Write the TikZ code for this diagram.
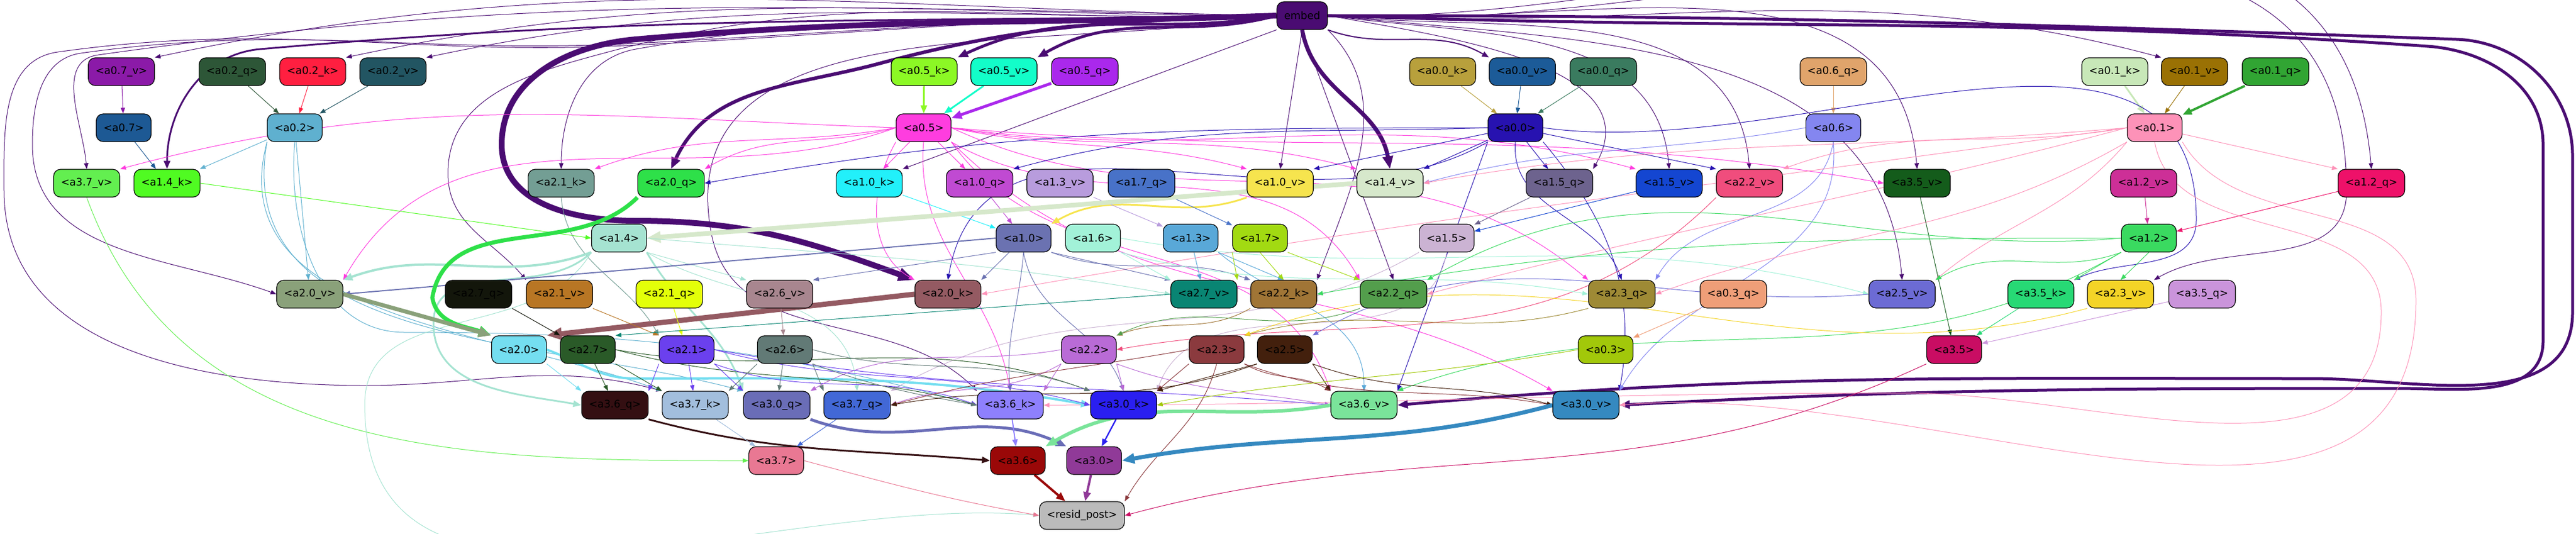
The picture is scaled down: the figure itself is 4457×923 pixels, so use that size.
\documentclass[tikz,border=0pt]{standalone}
\usepackage{fontspec}
\setmainfont{DejaVu Sans}
\usetikzlibrary{arrows.meta}
\pgfdeclarelayer{bg}
\pgfsetlayers{bg,main}
\definecolor{cembed}{HTML}{4A0C72}
\definecolor{ca07v}{HTML}{8B1AA8}
\definecolor{ca02q}{HTML}{2D5637}
\definecolor{ca02k}{HTML}{FF1F40}
\definecolor{ca02v}{HTML}{225562}
\definecolor{ca05k}{HTML}{8CF825}
\definecolor{ca05v}{HTML}{13FDC9}
\definecolor{ca05q}{HTML}{AA28EC}
\definecolor{ca00k}{HTML}{B8A03C}
\definecolor{ca00v}{HTML}{1C5B98}
\definecolor{ca00q}{HTML}{3A7B5F}
\definecolor{ca06q}{HTML}{E0A46B}
\definecolor{ca01k}{HTML}{C8E8B8}
\definecolor{ca01v}{HTML}{9A7104}
\definecolor{ca01q}{HTML}{31A533}
\definecolor{ca07}{HTML}{1D5994}
\definecolor{ca02}{HTML}{5FB0CF}
\definecolor{ca05}{HTML}{FE3DDF}
\definecolor{ca00}{HTML}{2712B0}
\definecolor{ca06}{HTML}{8486F0}
\definecolor{ca01}{HTML}{FD92B8}
\definecolor{ca37v}{HTML}{63EF50}
\definecolor{ca14k}{HTML}{50FB22}
\definecolor{ca21k}{HTML}{739E94}
\definecolor{ca20q}{HTML}{2EE049}
\definecolor{ca10k}{HTML}{22F0FA}
\definecolor{ca10q}{HTML}{C04AD2}
\definecolor{ca13v}{HTML}{B89CDD}
\definecolor{ca17q}{HTML}{4872C8}
\definecolor{ca10v}{HTML}{F6E44E}
\definecolor{ca14v}{HTML}{D6E8CB}
\definecolor{ca15q}{HTML}{6D638E}
\definecolor{ca15v}{HTML}{1446D1}
\definecolor{ca22v}{HTML}{F04D7D}
\definecolor{ca35v}{HTML}{145C1B}
\definecolor{ca12v}{HTML}{CD2F97}
\definecolor{ca12q}{HTML}{EE1169}
\definecolor{ca14}{HTML}{A5E3D1}
\definecolor{ca10}{HTML}{6B72B1}
\definecolor{ca16}{HTML}{A2F2D8}
\definecolor{ca13}{HTML}{59A8D8}
\definecolor{ca17}{HTML}{A2DA12}
\definecolor{ca15}{HTML}{CBB3D3}
\definecolor{ca12}{HTML}{3ADA60}
\definecolor{ca20v}{HTML}{8AA17A}
\definecolor{ca27q}{HTML}{13160B}
\definecolor{ca21v}{HTML}{B87624}
\definecolor{ca21q}{HTML}{E3FF09}
\definecolor{ca26v}{HTML}{A8868F}
\definecolor{ca20k}{HTML}{945A62}
\definecolor{ca27v}{HTML}{098573}
\definecolor{ca22k}{HTML}{A07536}
\definecolor{ca22q}{HTML}{539E4C}
\definecolor{ca23q}{HTML}{9E8A35}
\definecolor{ca03q}{HTML}{EF9E78}
\definecolor{ca25v}{HTML}{6C6BD4}
\definecolor{ca35k}{HTML}{27D975}
\definecolor{ca23v}{HTML}{F4D427}
\definecolor{ca35q}{HTML}{CA94DB}
\definecolor{ca20}{HTML}{74DEF0}
\definecolor{ca27}{HTML}{2A5A28}
\definecolor{ca21}{HTML}{6B40EE}
\definecolor{ca26}{HTML}{627A76}
\definecolor{ca22}{HTML}{B96BD6}
\definecolor{ca23}{HTML}{8B3A3E}
\definecolor{ca25}{HTML}{43200D}
\definecolor{ca03}{HTML}{A2C80A}
\definecolor{ca35}{HTML}{C90D63}
\definecolor{ca36q}{HTML}{340F12}
\definecolor{ca37k}{HTML}{A2BEDD}
\definecolor{ca30q}{HTML}{6A6DB7}
\definecolor{ca37q}{HTML}{4268D6}
\definecolor{ca36k}{HTML}{8E80FD}
\definecolor{ca30k}{HTML}{2A1FF0}
\definecolor{ca36v}{HTML}{7AE49A}
\definecolor{ca30v}{HTML}{3589C0}
\definecolor{ca37}{HTML}{E97893}
\definecolor{ca36}{HTML}{9A0808}
\definecolor{ca30}{HTML}{903A98}
\definecolor{cresid}{HTML}{BBBBBB}

\begin{document}
\begin{tikzpicture}[x=0.5pt, y=0.5pt,
    box/.style={draw=black, line width=0.6pt, rounded corners=6pt, minimum height=24pt,
      inner xsep=6.25pt, inner ysep=0pt, font=\fontsize{9}{11}\selectfont},
    lk/.style={draw=#1, line width=0.5pt, -{Triangle[length=4pt 2, width=3pt 1.6]}}]
    \useasboundingbox (0,0) rectangle (4457,-923);
    % row 0
    \node[box, fill=cembed] (embed) at (2253,-27) {embed};
    % row 1
    \node[box, fill=ca07v] (a07v) at (210,-124) {<a0.7\_v>};
    \node[box, fill=ca02q] (a02q) at (402,-124) {<a0.2\_q>};
    \node[box, fill=ca02k] (a02k) at (541,-124) {<a0.2\_k>};
    \node[box, fill=ca02v] (a02v) at (680,-124) {<a0.2\_v>};
    \node[box, fill=ca05k] (a05k) at (1599,-124) {<a0.5\_k>};
    \node[box, fill=ca05v] (a05v) at (1737,-124) {<a0.5\_v>};
    \node[box, fill=ca05q] (a05q) at (1877,-124) {<a0.5\_q>};
    \node[box, fill=ca00k] (a00k) at (2496,-124) {<a0.0\_k>};
    \node[box, fill=ca00v] (a00v) at (2634,-124) {<a0.0\_v>};
    \node[box, fill=ca00q] (a00q) at (2774,-124) {<a0.0\_q>};
    \node[box, fill=ca06q] (a06q) at (3172,-124) {<a0.6\_q>};
    \node[box, fill=ca01k] (a01k) at (3659,-124) {<a0.1\_k>};
    \node[box, fill=ca01v] (a01v) at (3797,-124) {<a0.1\_v>};
    \node[box, fill=ca01q] (a01q) at (3937,-124) {<a0.1\_q>};
    % row 2
    \node[box, fill=ca07] (a07) at (214,-221) {<a0.7>};
    \node[box, fill=ca02] (a02) at (510,-221) {<a0.2>};
    \node[box, fill=ca05] (a05) at (1598,-221) {<a0.5>};
    \node[box, fill=ca00] (a00) at (2622,-221) {<a0.0>};
    \node[box, fill=ca06] (a06) at (3172,-221) {<a0.6>};
    \node[box, fill=ca01] (a01) at (3728,-221) {<a0.1>};
    % row 3
    \node[box, fill=ca37v] (a37v) at (150,-317) {<a3.7\_v>};
    \node[box, fill=ca14k] (a14k) at (289,-317) {<a1.4\_k>};
    \node[box, fill=ca21k] (a21k) at (971,-317) {<a2.1\_k>};
    \node[box, fill=ca20q] (a20q) at (1161,-317) {<a2.0\_q>};
    \node[box, fill=ca10k] (a10k) at (1504,-317) {<a1.0\_k>};
    \node[box, fill=ca10q] (a10q) at (1695,-317) {<a1.0\_q>};
    \node[box, fill=ca13v] (a13v) at (1834,-317) {<a1.3\_v>};
    \node[box, fill=ca17q] (a17q) at (1975,-317) {<a1.7\_q>};
    \node[box, fill=ca10v] (a10v) at (2215,-317) {<a1.0\_v>};
    \node[box, fill=ca14v] (a14v) at (2405,-317) {<a1.4\_v>};
    \node[box, fill=ca15q] (a15q) at (2698,-317) {<a1.5\_q>};
    \node[box, fill=ca15v] (a15v) at (2888,-317) {<a1.5\_v>};
    \node[box, fill=ca22v] (a22v) at (3027,-317) {<a2.2\_v>};
    \node[box, fill=ca35v] (a35v) at (3317,-317) {<a3.5\_v>};
    \node[box, fill=ca12v] (a12v) at (3709,-317) {<a1.2\_v>};
    \node[box, fill=ca12q] (a12q) at (4103,-317) {<a1.2\_q>};
    % row 4
    \node[box, fill=ca14] (a14) at (1071,-412) {<a1.4>};
    \node[box, fill=ca10] (a10) at (1771,-412) {<a1.0>};
    \node[box, fill=ca16] (a16) at (1891,-412) {<a1.6>};
    \node[box, fill=ca13] (a13) at (2060,-412) {<a1.3>};
    \node[box, fill=ca17] (a17) at (2180,-412) {<a1.7>};
    \node[box, fill=ca15] (a15) at (2503,-412) {<a1.5>};
    \node[box, fill=ca12] (a12) at (3718,-412) {<a1.2>};
    % row 5
    \node[box, fill=ca20v] (a20v) at (536,-509) {<a2.0\_v>};
    \node[box, fill=ca27q] (a27q) at (828,-509) {<a2.7\_q>};
    \node[box, fill=ca21v] (a21v) at (968,-509) {<a2.1\_v>};
    \node[box, fill=ca21q] (a21q) at (1158,-509) {<a2.1\_q>};
    \node[box, fill=ca26v] (a26v) at (1349,-509) {<a2.6\_v>};
    \node[box, fill=ca20k] (a20k) at (1640,-509) {<a2.0\_k>};
    \node[box, fill=ca27v] (a27v) at (2083,-509) {<a2.7\_v>};
    \node[box, fill=ca22k] (a22k) at (2221,-509) {<a2.2\_k>};
    \node[box, fill=ca22q] (a22q) at (2411,-509) {<a2.2\_q>};
    \node[box, fill=ca23q] (a23q) at (2806,-509) {<a2.3\_q>};
    \node[box, fill=ca03q] (a03q) at (2999,-509) {<a0.3\_q>};
    \node[box, fill=ca25v] (a25v) at (3291,-509) {<a2.5\_v>};
    \node[box, fill=ca35k] (a35k) at (3531,-509) {<a3.5\_k>};
    \node[box, fill=ca23v] (a23v) at (3669,-509) {<a2.3\_v>};
    \node[box, fill=ca35q] (a35q) at (3810,-509) {<a3.5\_q>};
    % row 6
    \node[box, fill=ca20] (a20) at (898,-605) {<a2.0>};
    \node[box, fill=ca27] (a27) at (1017,-605) {<a2.7>};
    \node[box, fill=ca21] (a21) at (1188,-605) {<a2.1>};
    \node[box, fill=ca26] (a26) at (1358,-605) {<a2.6>};
    \node[box, fill=ca22] (a22) at (1884,-605) {<a2.2>};
    \node[box, fill=ca23] (a23) at (2105,-605) {<a2.3>};
    \node[box, fill=ca25] (a25) at (2223,-605) {<a2.5>};
    \node[box, fill=ca03] (a03) at (2778,-605) {<a0.3>};
    \node[box, fill=ca35] (a35) at (3381,-605) {<a3.5>};
    % row 7
    \node[box, fill=ca36q] (a36q) at (1064,-701) {<a3.6\_q>};
    \node[box, fill=ca37k] (a37k) at (1203,-701) {<a3.7\_k>};
    \node[box, fill=ca30q] (a30q) at (1344,-701) {<a3.0\_q>};
    \node[box, fill=ca37q] (a37q) at (1483,-701) {<a3.7\_q>};
    \node[box, fill=ca36k] (a36k) at (1748,-701) {<a3.6\_k>};
    \node[box, fill=ca30k] (a30k) at (1944,-701) {<a3.0\_k>};
    \node[box, fill=ca36v] (a36v) at (2360,-701) {<a3.6\_v>};
    \node[box, fill=ca30v] (a30v) at (2744,-701) {<a3.0\_v>};
    % row 8
    \node[box, fill=ca37] (a37) at (1343,-797) {<a3.7>};
    \node[box, fill=ca36] (a36) at (1761,-797) {<a3.6>};
    \node[box, fill=ca30] (a30) at (1893,-797) {<a3.0>};
    % row 9
    \node[box, fill=cresid] (resid) at (1872,-892) {<resid\_post>};

    \begin{pgfonlayer}{bg}
    % from embed
    \draw[lk=cembed, line width=2.5pt] (embed.west) to[out=190,in=25] (a05k.north east);
    \draw[lk=cembed, line width=2.5pt] (embed.west) to[out=195,in=30] (a05v.north east);
    \draw[lk=cembed, line width=3pt] (embed.west) to[out=182,in=15] (1521,-110) to[out=195,in=65] (a20q.north);
    \draw[lk=cembed, line width=5pt] (embed.west) to[out=182,in=5] (1100,-68) to[out=185,in=90] (868,-250) to[out=-90,in=180] (1100,-382) to[out=0,in=160] (a20k.north west);
    \draw[lk=cembed, line width=3.5pt] (embed.south) to[out=-80,in=100] (a14v.north);
    \draw[lk=cembed, line width=1.5pt] (embed.west) to[out=181,in=5] (450,-85) to[out=185,in=90] (a14k.north);
    \draw[lk=cembed, line width=2.5pt] (embed.east) to[out=0,in=178] (4250,-68) to[out=-2,in=90] (4451,-270) -- (4451,-540) to[out=-90,in=0] (4000,-655) to[out=180,in=5] (a36v.east);
    \draw[lk=cembed, line width=2.5pt] (embed.east) to[out=-2,in=176] (4200,-80) to[out=-4,in=90] (4400,-250) -- (4400,-590) to[out=-90,in=0] (4150,-672) to[out=180,in=3] (a30v.east);
    \draw[lk=cembed, line width=1pt] (embed.south east) to[out=-20,in=150] (a00v.north west);
    \draw[lk=cembed] (embed.west) to[out=179,in=12] (a07v.north east);
    \draw[lk=cembed] (embed.west) to[out=180,in=12] (a02k.north east);
    \draw[lk=cembed] (embed.west) to[out=181,in=12] (a02v.north east);
    \draw[lk=cembed] (embed.west) to[out=179,in=8] (170,-95) to[out=188,in=95] (a37v.north);
    \draw[lk=cembed] (embed.west) to[out=180,in=3] (1100,-75) to[out=183,in=8] (140,-92) to[out=188,in=90] (56,-250) to[out=-90,in=160] (a20v.west);
    \draw[lk=cembed] (embed.west) to[out=180,in=3] (1100,-78) to[out=183,in=8] (100,-90) to[out=188,in=90] (7,-330) to[out=-90,in=180] (631,-667) to[out=0,in=165] (a37k.north west);
    \draw[lk=cembed] (embed.west) to[out=182,in=10] (1100,-85) to[out=190,in=90] (a21k.north);
    \draw[lk=cembed] (embed.west) to[out=182,in=15] (1052,-90) to[out=195,in=90] (775,-300) to[out=-90,in=130] (a21v.north west);
    \draw[lk=cembed] (embed.south west) -- (a10k.north east);
    \draw[lk=cembed] (embed.south) -- (a10v.north);
    \draw[lk=cembed] (embed.east) to[out=-10,in=60] (a15q.north east);
    \draw[lk=cembed] (embed.east) to[out=-8,in=95] (a15v.north);
    \draw[lk=cembed] (embed.east) to[out=-6,in=95] (a22v.north);
    \draw[lk=cembed] (embed.east) to[out=-4,in=95] (a35v.north);
    \draw[lk=cembed] (embed.east) to[out=-3,in=165] (a01v.north west);
    \draw[lk=cembed] (embed.east) to[out=-2,in=95] (a12q.north);
    \draw[lk=cembed] (embed.south) -- (a22q.north);
    \draw[lk=cembed] (embed.south east) to[out=-45,in=70] (a22k.north east);
    \draw[lk=cembed] (embed.east) to[out=-4,in=90] (4060,-330) to[out=-90,in=30] (a23v.north east);
    \draw[lk=cembed] (embed.east) to[out=-6,in=95] (a25v.north);
    \draw[lk=cembed] (embed.west) to[out=190,in=100] (1230,-400) to[out=-80,in=135] (a36k.north west);
    % row 1 to row 2
    \draw[lk=ca07v] (a07v) -- (a07);
    \draw[lk=ca02q] (a02q) -- (a02);
    \draw[lk=ca02k] (a02k) -- (a02);
    \draw[lk=ca02v] (a02v) -- (a02);
    \draw[lk=ca05k, line width=1.5pt] (a05k) -- (a05);
    \draw[lk=ca05v, line width=1.5pt] (a05v) -- (a05);
    \draw[lk=ca05q, line width=2.5pt] (a05q) -- (a05);
    \draw[lk=ca00k] (a00k) -- (a00);
    \draw[lk=ca00v] (a00v) -- (a00);
    \draw[lk=ca00q] (a00q) -- (a00);
    \draw[lk=ca06q] (a06q) -- (a06);
    \draw[lk=ca01k, line width=1.5pt] (a01k) -- (a01);
    \draw[lk=ca01v] (a01v) -- (a01);
    \draw[lk=ca01q, line width=2pt] (a01q) -- (a01);
    % from a0.7 and a0.2
    \draw[lk=ca07] (a07) -- (a14k);
    \draw[lk=ca02] (a02) -- (a14k);
    \draw[lk=ca02] (a02) -- (a20v);
    \draw[lk=ca02] (a02.south) to[out=-95,in=180] (700,-575) to[out=0,in=165] (a36k.west);
    \draw[lk=ca02] (a02.south west) to[out=-100,in=165] (a30q.north west);
    \draw[lk=ca02] (a02.south west) to[out=-105,in=160] (a37k.north west);
    % from a0.5
    \draw[lk=ca05] (a05) -- (a10k);
    \draw[lk=ca05] (a05) -- (a10q);
    \draw[lk=ca05] (a05.west) to[out=195,in=30] (a20q.north east);
    \draw[lk=ca05] (a05.west) to[out=178,in=15] (a37v.north east);
    \draw[lk=ca05] (a05.west) to[out=190,in=20] (a21k.north east);
    \draw[lk=ca05] (a05.east) to[out=-12,in=165] (a10v.north west);
    \draw[lk=ca05] (a05.east) to[out=-10,in=165] (a14v.north west);
    \draw[lk=ca05] (a05.east) to[out=-8,in=165] (a15v.north west);
    \draw[lk=ca05] (a05.east) to[out=-5,in=170] (a35v.west);
    \draw[lk=ca05] (a05.south west) to[out=-120,in=150] (a20k.north west);
    \draw[lk=ca05] (a05.south) to[out=-95,in=100] (a36k.north);
    \draw[lk=ca05] (a05.south east) to[out=-45,in=150] (a30v.north west);
    \draw[lk=ca05] (a05.south east) to[out=-30,in=120] (a22q.north west);
    \draw[lk=ca05] (a05.east) to[out=-25,in=140] (a23q.north west);
    \draw[lk=ca05] (a05.south east) to[out=-55,in=110] (a36v.north west);
    \draw[lk=ca05] (a05.west) to[out=200,in=60] (a20v.north east);
    % from a0.0
    \draw[lk=ca00] (a00) -- (a10v.north east);
    \draw[lk=ca00] (a00) -- (a14v.north east);
    \draw[lk=ca00] (a00) -- (a15q);
    \draw[lk=ca00] (a00) -- (a22v.north west);
    \draw[lk=ca00] (a00.west) to[out=182,in=15] (a10q.north east);
    \draw[lk=ca00] (a00.west) to[out=180,in=10] (a20q.east);
    \draw[lk=ca00] (a00.south west) to[out=-110,in=70] (a36v.north east);
    \draw[lk=ca00] (a00.south) to[out=-95,in=110] (a23q.north);
    \draw[lk=ca00] (a00.south west) to[out=-150,in=80] (a20k.north);
    \draw[lk=ca00] (a00.south east) to[out=-50,in=80] (a30v.north east);
    \draw[lk=ca00] (a00.east) to[out=-8,in=90] (3800,-380) to[out=-90,in=25] (a35k.north east);
    % from a0.6
    \draw[lk=ca06] (a06.west) to[out=190,in=15] (a14v.east);
    \draw[lk=ca06] (a06.south) to[out=-100,in=60] (a23q.north east);
    \draw[lk=ca06] (a06.south) to[out=-85,in=60] (a30v.north east);
    % from a0.1
    \draw[lk=ca01] (a01) -- (a12q.north west);
    \draw[lk=ca01] (a01.west) to[out=190,in=20] (a22v.north east);
    \draw[lk=ca01] (a01.west) to[out=185,in=10] (a14v.east);
    \draw[lk=ca01] (a01.south west) to[out=-130,in=40] (a25v.north east);
    \draw[lk=ca01] (a01.south east) to[out=-60,in=90] (4180,-520) to[out=-90,in=5] (a30v.east);
    \draw[lk=ca01] (a01.west) to[out=195,in=15] (a22q.east);
    \draw[lk=ca01] (a01.south west) to[out=-150,in=20] (a23q.east);
    \draw[lk=ca01] (a01.west) to[out=188,in=10] (a20k.east);
    \draw[lk=ca01] (a01.south) to[out=-80,in=90] (4120,-540) to[out=-90,in=0] (3300,-680) to[out=180,in=0] (a36k.east);
    % row 3 to row 4
    \draw[lk=ca14k] (a14k.east) -- (a14.west);
    \draw[lk=ca10k] (a10k) -- (a10);
    \draw[lk=ca10q] (a10q) -- (a10);
    \draw[lk=ca10v, line width=1.5pt] (a10v.south west) to[out=200,in=30] (a10.north east);
    \draw[lk=ca13v] (a13v) -- (a13);
    \draw[lk=ca17q] (a17q) -- (a17);
    \draw[lk=ca14v, line width=4pt] (a14v.west) -- (a14.east);
    \draw[lk=ca15q] (a15q) -- (a15);
    \draw[lk=ca15v] (a15v) -- (a15);
    \draw[lk=ca12v] (a12v) -- (a12);
    \draw[lk=ca12q] (a12q) -- (a12);
    \draw[lk=ca37v] (a37v.south) to[out=-70,in=180] (a37.west);
    \draw[lk=ca21k] (a21k.south) to[out=-85,in=120] (a21.north west);
    \draw[lk=ca22v] (a22v.south west) to[out=-135,in=10] (a22.east);
    \draw[lk=ca35v] (a35v) -- (a35);
    % from row 4
    \draw[lk=ca14, line width=2pt] (a14.south west) to[out=200,in=20] (a20v.north east);
    \draw[lk=ca14, line width=1.5pt] (a14.south west) to[out=-135,in=90] (750,-560) to[out=-90,in=170] (a36q.west);
    \draw[lk=ca14, line width=1.5pt] (a14.south east) to[out=-60,in=110] (a30q.north west);
    \draw[lk=ca14] (a14.south west) to[out=-120,in=90] (631,-700) to[out=-90,in=175] (resid.west);
    \draw[lk=ca14] (a14.south east) -- (a26v.north west);
    \draw[lk=ca14] (a14.south east) to[out=-30,in=95] (a37q.north);
    \draw[lk=ca14] (a14.east) to[out=-5,in=170] (a27v.west);
    \draw[lk=ca10] (a10) -- (a20k.north east);
    \draw[lk=ca10] (a10.south east) -- (a27v.north west);
    \draw[lk=ca10] (a10.south east) to[out=-20,in=160] (a22k.north west);
    \draw[lk=ca10, line width=1pt] (a10.west) -- (a20v.east);
    \draw[lk=ca10] (a10.south west) -- (a26v.north east);
    \draw[lk=ca10] (a10.south) to[out=-95,in=95] (a36k.north);
    \draw[lk=ca10] (a10.south) to[out=-80,in=110] (a30k.north);
    \draw[lk=ca16] (a16.south east) -- (a27v.north west);
    \draw[lk=ca16] (a16.south east) to[out=-15,in=170] (a23q.west);
    \draw[lk=ca16] (a16.east) to[out=-10,in=165] (a25v.west);
    \draw[lk=ca13] (a13) -- (a27v);
    \draw[lk=ca13] (a13.south east) -- (a22k.north);
    \draw[lk=ca13] (a13.south east) to[out=-40,in=90] (a36v.north);
    \draw[lk=ca17] (a17.south west) -- (a27v.north east);
    \draw[lk=ca17] (a17.south) -- (a22k.north);
    \draw[lk=ca17] (a17.south east) -- (a22q.north west);
    \draw[lk=ca15] (a15.south west) to[out=-150,in=30] (a37q.north east);
    \draw[lk=ca15] (a15.south) to[out=-100,in=70] (a30k.north east);
    \draw[lk=ca12] (a12.south west) -- (a35k.north east);
    \draw[lk=ca12] (a12.south) -- (a23v.north);
    \draw[lk=ca12] (a12.west) to[out=180,in=10] (a22k.east);
    \draw[lk=ca12] (a12.west) to[out=185,in=30] (a22q.north east);
    \draw[lk=ca12] (a12.south west) to[out=-160,in=30] (a25v.north east);
    \draw[lk=ca12] (a12.south west) to[out=-150,in=20] (a36v.north east);
    % row 5 to row 6
    \draw[lk=ca20q, line width=3.5pt] (a20q.south west) to[out=225,in=80] (748,-515) to[out=-80,in=160] (a20.north west);
    \draw[lk=ca20v, line width=3.5pt] (a20v.east) -- (a20.north west);
    \draw[lk=ca20k, line width=4.5pt] (a20k.west) -- (a20.north east);
    \draw[lk=ca21v] (a21v.south east) -- (a21.north west);
    \draw[lk=ca21q] (a21q) -- (a21);
    \draw[lk=ca27q] (a27q.south east) -- (a27.north west);
    \draw[lk=ca26v] (a26v) -- (a26);
    \draw[lk=ca27v] (a27v.west) -- (a27.north east);
    \draw[lk=ca22k] (a22k.south west) to[out=-150,in=20] (a22.north east);
    \draw[lk=ca22q] (a22q.south west) to[out=-160,in=25] (a22.north east);
    \draw[lk=ca23q] (a23q.south west) to[out=-165,in=15] (a23.north east);
    \draw[lk=ca23v] (a23v.south west) to[out=-165,in=20] (a23.north east);
    \draw[lk=ca25v] (a25v.west) to[out=185,in=30] (a25.north east);
    \draw[lk=ca03q] (a03q) -- (a03);
    \draw[lk=ca35k] (a35k) -- (a35);
    \draw[lk=ca35q] (a35q) -- (a35);
    % row 6 to row 7
    \draw[lk=ca20, line width=2pt] (a20.east) to[out=-20,in=180] (1100,-655) to[out=0,in=170] (a30k.west);
    \draw[lk=ca20] (a20.south east) -- (a36q.north west);
    \draw[lk=ca27] (a27) -- (a36q);
    \draw[lk=ca27] (a27.south east) -- (a37k.north west);
    \draw[lk=ca27] (a27.east) to[out=-15,in=165] (a36k.west);
    \draw[lk=ca27] (a27.east) to[out=-10,in=160] (a30k.north west);
    \draw[lk=ca21] (a21) -- (a37k);
    \draw[lk=ca21] (a21.south east) to[out=-20,in=160] (a36k.west);
    \draw[lk=ca21] (a21.east) to[out=-15,in=165] (a30k.west);
    \draw[lk=ca21] (a21.east) to[out=-10,in=175] (a36v.west);
    \draw[lk=ca21] (a21.south east) -- (a30q.north west);
    \draw[lk=ca21] (a21.south west) -- (a36q.north east);
    \draw[lk=ca26] (a26) -- (a30q);
    \draw[lk=ca26] (a26.south east) to[out=-20,in=170] (a36k.west);
    \draw[lk=ca26] (a26.south east) -- (a37q.north west);
    \draw[lk=ca26] (a26.south west) -- (a37k.north east);
    \draw[lk=ca26] (a26.east) to[out=-15,in=160] (a30k.north west);
    \draw[lk=ca22] (a22.south east) -- (a30k.north);
    \draw[lk=ca22] (a22.south east) to[out=-20,in=170] (a36v.west);
    \draw[lk=ca22] (a22.south west) to[out=-150,in=20] (a37q.east);
    \draw[lk=ca22] (a22.south west) -- (a36k.north east);
    \draw[lk=ca22] (a22.west) to[out=190,in=30] (a30q.north east);
    \draw[lk=ca23] (a23.south west) -- (a30k.north east);
    \draw[lk=ca23] (a23.south east) to[out=-30,in=150] (a36v.north west);
    \draw[lk=ca23] (a23.south east) to[out=-20,in=170] (a30v.west);
    \draw[lk=ca23] (a23.south) to[out=-105,in=60] (resid.north east);
    \draw[lk=ca23] (a23.west) to[out=-170,in=15] (a37q.east);
    \draw[lk=ca25] (a25.south east) -- (a36v.north west);
    \draw[lk=ca25] (a25.south east) to[out=-20,in=165] (a30v.west);
    \draw[lk=ca25] (a25.south west) to[out=-160,in=10] (a37q.east);
    \draw[lk=ca25] (a25.south west) -- (a30k.north east);
    \draw[lk=ca03] (a03.west) to[out=190,in=10] (a30k.east);
    \draw[lk=ca35] (a35.south west) to[out=-155,in=15] (resid.east);
    % row 7 to row 9
    \draw[lk=ca36q, line width=1.5pt] (a36q.south east) to[out=-15,in=175] (a36.west);
    \draw[lk=ca30q, line width=2.5pt] (a30q.south east) to[out=-20,in=155] (a30.north west);
    \draw[lk=ca36v, line width=3pt] (a36v.west) to[out=190,in=30] (a36.north east);
    \draw[lk=ca30v, line width=3.5pt] (a30v.west) to[out=195,in=10] (a30.east);
    \draw[lk=ca36k, line width=1pt] (a36k) -- (a36);
    \draw[lk=ca30k, line width=1.2pt] (a30k) -- (a30);
    \draw[lk=ca37k] (a37k) -- (a37);
    \draw[lk=ca37q] (a37q) -- (a37);
    \draw[lk=ca36, line width=2pt] (a36) -- (resid);
    \draw[lk=ca30, line width=2pt] (a30) -- (resid);
    \draw[lk=ca37] (a37.east) to[out=-15,in=170] (resid.west);
    \end{pgfonlayer}
\end{tikzpicture}
\end{document}
